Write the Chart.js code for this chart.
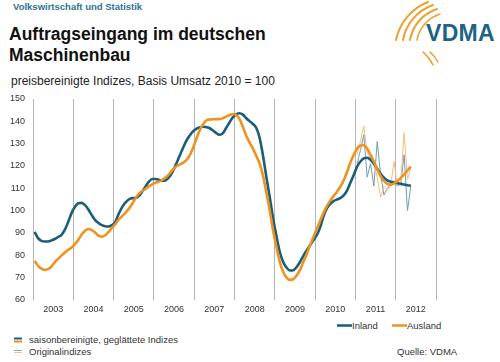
<!DOCTYPE html>
<html>
<head>
<meta charset="utf-8">
<script src="https://cdn.jsdelivr.net/npm/chart.js@4/dist/chart.umd.min.js"></script>
<style>
  html, body { margin:0; padding:0; background:#fff; }
  body { width:500px; height:362px; position:relative; overflow:hidden; font-family:"Liberation Sans", Arial, sans-serif; }
  .t { position:absolute; white-space:nowrap; }
  #hdr { left:13px; top:1px; font-size:9.5px; font-weight:bold; color:#2f7295; }
  #title { left:9px; top:24px; font-size:17.5px; font-weight:bold; color:#111; line-height:21px; }
  #sub { left:11px; top:74px; font-size:12px; color:#222; }
  #vdma { left:426px; top:20px; font-size:23px; font-weight:bold; color:#1d6386; letter-spacing:0.3px; }
  .leg { font-size:9.5px; color:#333; }
  canvas { position:absolute; left:0; top:0; }
</style>
</head>
<body>
<svg width="500" height="362" style="position:absolute;left:0;top:0" xmlns="http://www.w3.org/2000/svg">
  <g fill="none" stroke="#f0a030" stroke-linecap="round">
    <path d="M396 40 A52 52 0 0 1 428 2" stroke-width="2"/>
    <path d="M403 40 A46 46 0 0 1 433 5" stroke-width="2"/>
    <path d="M410 40 A40 40 0 0 1 437 9" stroke-width="2"/>
    <path d="M417 40 A34 34 0 0 1 440 14" stroke-width="1.6"/>
    <path d="M423 52 A40 40 0 0 1 433 65" stroke-width="1.6"/>
    <path d="M430 52 A34 34 0 0 1 438 62" stroke-width="1.6"/>
  </g>
  <line x1="14" y1="338.5" x2="22" y2="338.5" stroke="#1b5e7a" stroke-width="2"/>
  <line x1="14" y1="341.5" x2="22" y2="341.5" stroke="#f0921e" stroke-width="2"/>
  <line x1="14" y1="350.5" x2="22" y2="350.5" stroke="#7ea8bd" stroke-width="1"/>
  <line x1="14" y1="352.5" x2="22" y2="352.5" stroke="#f5bf85" stroke-width="1"/>
  <line x1="337" y1="325.5" x2="352" y2="325.5" stroke="#1b5e7a" stroke-width="2.5"/>
  <line x1="392" y1="325.5" x2="407" y2="325.5" stroke="#f0921e" stroke-width="2.5"/>
</svg>
<div class="t" id="hdr">Volkswirtschaft und Statistik</div>
<div class="t" id="title">Auftragseingang im deutschen<br>Maschinenbau</div>
<div class="t" id="sub">preisbereinigte Indizes, Basis Umsatz 2010 = 100</div>
<div class="t" id="vdma">VDMA</div>
<div class="t leg" style="left:352px;top:320px;">Inland</div>
<div class="t leg" style="left:407px;top:320px;">Ausland</div>
<div class="t leg" style="left:29px;top:334px;">saisonbereinigte, geglättete Indizes</div>
<div class="t leg" style="left:29px;top:346px;">Originalindizes</div>
<div class="t leg" style="left:397px;top:346px;">Quelle: VDMA</div>
<canvas id="c" width="500" height="362"></canvas>
<script>
// Year labels (x axis), one per calendar year
const years = ['2003','2004','2005','2006','2007','2008','2009','2010','2011','2012'];

// Monthly smoothed, seasonally adjusted index, Jan 2003 – May 2012
const inlandSmoothed = [
  90.5, 87.7, 86.5, 86.2, 86.2, 86.7, 87.3, 88.2, 89.2, 91.5, 95, 99,
  101.8, 103.3, 103.5, 102.5, 100.5, 98, 95.8, 94.5, 93.5, 93, 92.9, 93.5,
  95, 98.5, 101.5, 103.6, 105, 105.6, 105.6, 106.5, 108.5, 110.8, 113, 114.2,
  114.2, 113.8, 113.4, 113.6, 115, 117.3, 120.5, 124, 127.5, 130.8, 133.3, 135.3,
  136.5, 137.3, 137.6, 137.5, 137, 136, 134.8, 134, 134.6, 137, 139.5, 141.8,
  143.1, 143.6, 143, 141.4, 140.1, 138.8, 137, 132.5, 124.5, 115, 106, 96.5,
  88.5, 81.5, 77, 74.5, 73.2, 73.3, 74.8, 77, 79.8, 82.2, 84.5, 86.8,
  89, 92.5, 97.5, 101, 103, 104.3, 105, 105.6, 106.8, 109, 112.5, 116,
  119.7, 122, 123.5, 123.7, 122.8, 121, 118.8, 116.5, 114.8, 113.6, 113, 112.7,
  112.4, 112, 111.7, 111.4, 111.2
];
const auslandSmoothed = [
  77.5, 75.3, 74, 73.5, 73.8, 75, 77, 78.5, 80, 81.3, 82.5, 83.5,
  85, 87, 89.3, 91, 91.8, 91.3, 90.2, 88.8, 88.3, 89, 90.5, 92.3,
  94, 96, 97.5, 99, 100.8, 103, 105.5, 107.5, 108.8, 109.7, 110.8, 111.8,
  112.5, 113, 113.8, 114.8, 116.3, 118.2, 119.7, 120.5, 121.3, 122.4, 124.3, 127.5,
  131.5, 135.5, 138.4, 140.3, 140.8, 140.9, 141, 141, 141.4, 142.1, 142.8, 143.3,
  142.8, 141, 137.5, 133.5, 130.5, 127.8, 124.5, 121, 115.5, 108, 100, 91,
  83.5, 77, 72.5, 70, 69, 69.3, 71, 73.5, 77, 80.5, 84.5, 88.2,
  91.8, 95.5, 99, 102, 104.5, 106.5, 108.5, 110.7, 113.5, 117.3, 121.5, 125,
  127.8, 129.2, 129.3, 127.8, 125, 122, 118.5, 115.5, 113.3, 112, 111.6, 112.2,
  113.3, 114.7, 116.3, 118, 119.7
];
// Original (unadjusted) indices, Jan 2011 – May 2012
const inlandOriginal = [121, 127, 134, 115, 121, 111, 131, 116, 107, 110, 112, 113, 111, 112, 125, 100, 111];
const auslandOriginal = [125, 131, 138, 126, 123, 121, 115, 106, 111, 109, 111, 122, 111, 113, 135, 114, 119];

const startOriginal = 96; // month index of Jan 2011 (Jan 2003 = 0)

const toPts = (arr, offset) => arr.map((v, i) => ({ x: offset + i + 0.5, y: v }));

new Chart(document.getElementById('c'), {
  type: 'line',
  data: {
    datasets: [
      { label: 'Inland', data: toPts(inlandSmoothed, 0), borderColor: '#1b5e7a', borderWidth: 2.6, pointRadius: 0, tension: 0.4, cubicInterpolationMode: 'monotone', order: 1 },
      { label: 'Ausland', data: toPts(auslandSmoothed, 0), borderColor: '#f0921e', borderWidth: 2.6, pointRadius: 0, tension: 0.4, cubicInterpolationMode: 'monotone', order: 0 },
      { label: 'Inland original', data: toPts(inlandOriginal, startOriginal), borderColor: '#6f9db5', borderWidth: 1, pointRadius: 0, tension: 0, order: 3 },
      { label: 'Ausland original', data: toPts(auslandOriginal, startOriginal), borderColor: '#f5bb7e', borderWidth: 1, pointRadius: 0, tension: 0, order: 2 }
    ]
  },
  options: {
    responsive: false,
    animation: false,
    devicePixelRatio: 1,
    events: [],
    layout: { padding: { left: 0, right: 64, top: 99, bottom: 42 } },
    plugins: { legend: { display: false }, tooltip: { enabled: false } },
    scales: {
      x: {
        type: 'linear', min: 0, max: years.length * 12,
        afterFit: s => { s.height = 20; },
        border: { display: false },
        grid: {
          drawTicks: false,
          color: c => (c.tick && c.tick.value % 12 === 0) ? '#b4b4b4' : 'rgba(0,0,0,0)',
          lineWidth: 1
        },
        ticks: {
          stepSize: 6, autoSkip: false, maxRotation: 0, padding: 4,
          color: '#333', font: { family: 'Liberation Sans', size: 9 },
          callback: v => (v % 12 === 6) ? years[(v - 6) / 12] : ''
        }
      },
      y: {
        min: 60, max: 150,
        afterFit: s => { s.width = 33; },
        border: { display: false },
        grid: { display: false, drawTicks: false },
        ticks: { stepSize: 10, padding: 8, color: '#333', font: { family: 'Liberation Sans', size: 9 } }
      }
    }
  }
});
</script>
</body>
</html>
